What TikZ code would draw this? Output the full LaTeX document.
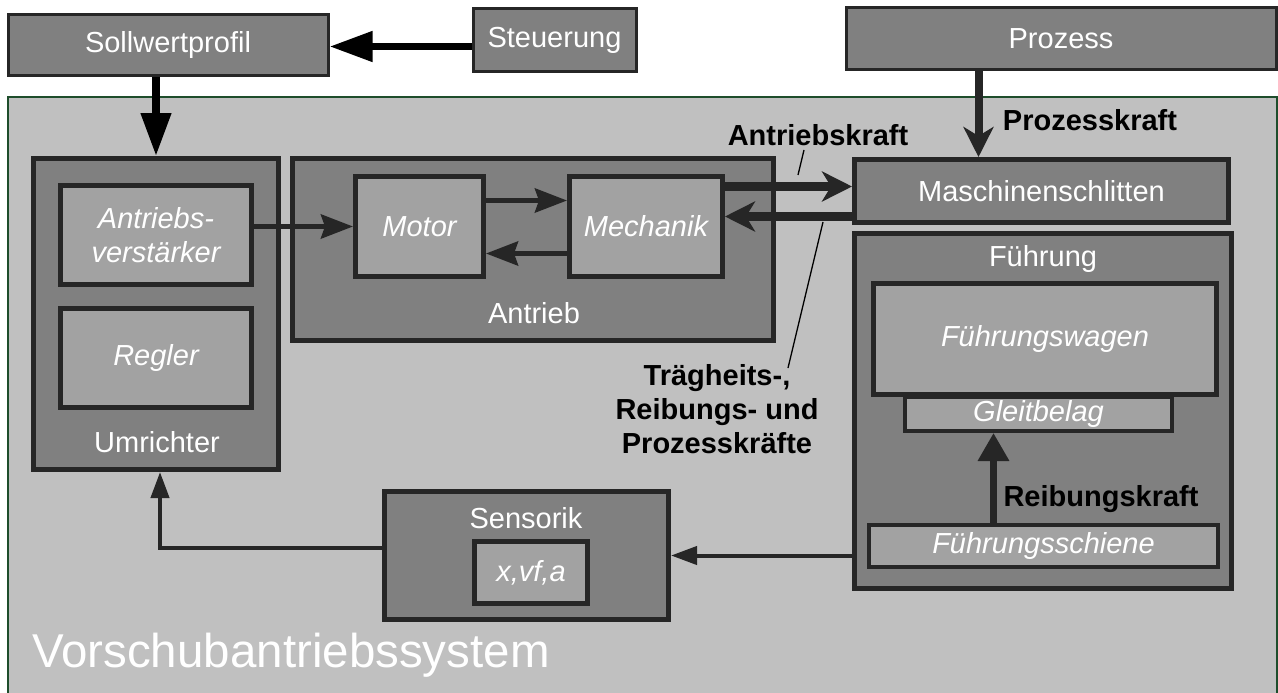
\documentclass[tikz,border=0pt]{standalone}
\usepackage{fontspec}
\setmainfont{Liberation Sans}
\usetikzlibrary{arrows.meta,positioning}

\definecolor{sysgray}{HTML}{C0C0C0}
\definecolor{outergray}{HTML}{808080}
\definecolor{innergray}{HTML}{A2A2A2}
\definecolor{edge}{HTML}{262626}
\definecolor{sysedge}{HTML}{1E4D2B}

\newcommand{\lbl}{\fontsize{29pt}{34pt}\selectfont}

\begin{document}
\begin{tikzpicture}[x=1pt, y=-1pt,
  topbox/.style={rectangle, draw=edge, line width=3pt, fill=outergray, text=white, font=\lbl, inner sep=0pt},
  outer/.style={rectangle, draw=edge, line width=5pt, fill=outergray, inner sep=0pt},
  inner/.style={rectangle, draw=edge, line width=5pt, fill=innergray, text=white, font=\lbl\itshape, align=center, inner sep=0pt},
  title/.style={text=white, font=\lbl, inner sep=0pt},
  kraft/.style={font=\lbl\bfseries, align=center, inner sep=0pt},
  setarrow/.style={draw=black, line width=7.5pt, -{Triangle[length=43pt,width=29pt]}},
  forcearrow/.style={draw=edge, line width=9pt, -{Stealth[length=30pt,width=30pt,inset=9pt]}},
  midarrow/.style={draw=edge, line width=5pt, -{Stealth[length=32pt,width=24pt,inset=4pt]}},
  thinarrow/.style={draw=edge, line width=4pt, -{Triangle[length=26pt,width=18pt]}},
  lead/.style={draw=black, line width=1.3pt},
]

\useasboundingbox (0,0) rectangle (1278,693);
\fill[white] (0,0) rectangle (1278,693);

% === System frame ===
\draw[sysedge, line width=2pt, fill=sysgray] (8,97) rectangle (1277,720);
\node[text=white, font=\fontsize{47.5pt}{52pt}\selectfont, anchor=west, inner sep=0pt] (sys) at (32,655) {Vorschubantriebssystem};

% === Top boxes ===
\node[topbox, minimum width=320pt, minimum height=61pt] (soll) at (168,45) {Sollwertprofil};
\node[topbox, minimum width=163pt, minimum height=63pt] (steu) at (554.5,40.5) {Steuerung};
\node[topbox, minimum width=430pt, minimum height=62pt] (proz) at (1061,39) {Prozess};

% === Umrichter ===
\node[outer, minimum width=245pt, minimum height=311pt] (umr) at (156,314) {};
\node[title] (umrtext) at (157,442) {Umrichter};
\node[inner, minimum width=191pt, minimum height=99pt] (verst) at (156,235) {Antriebs-\\verstärker};
\node[inner, minimum width=191pt, minimum height=99pt] (regler) at (156,358) {Regler};

% === Antrieb ===
\node[outer, minimum width=481pt, minimum height=182pt] (antr) at (533,249.5) {};
\node[title] (antrtext) at (534,313) {Antrieb};
\node[inner, minimum width=128pt, minimum height=100pt] (motor) at (419.5,226.5) {Motor};
\node[inner, minimum width=153pt, minimum height=100pt] (mech) at (646,226.5) {Mechanik};

% === Schlitten und Fuehrung ===
\node[outer, text=white, font=\lbl, minimum width=374pt, minimum height=63pt] (schl) at (1041.5,191) {Maschinenschlitten};
\node[outer, minimum width=377pt, minimum height=355pt] (fuehr) at (1043,411) {};
\node[title] (fuehrtext) at (1043,259) {Führung};
\node[inner, minimum width=343pt, minimum height=111pt] (wagen) at (1045,339) {Führungswagen};
\node[inner, line width=4pt, minimum width=267pt, minimum height=34pt] (belag) at (1038.5,414) {Gleitbelag};
\node[inner, line width=4pt, minimum width=349pt, minimum height=42pt] (schiene) at (1043.5,546) {Führungsschiene};

% === Sensorik ===
\node[outer, minimum width=284pt, minimum height=128pt] (sens) at (526.5,555.5) {};
\node[title] (senstext) at (526,518) {Sensorik};
\node[inner, minimum width=113pt, minimum height=62pt] (xva) at (531,572.5) {x,vf,a};

% === Kraefte ===
\node[kraft] (antrkraft) at (818,135) {Antriebskraft};
\node[kraft] (prozkraft) at (1090,120) {Prozesskraft};
\node[kraft] (reibkraft) at (1101,499) {Reibungskraft};
\node[kraft] (traeg) at (717,409) {Trägheits-,\\Reibungs- und\\Prozesskräfte};

% === Connectors ===
\draw[setarrow] ([yshift=-6pt]steu.west) -- ([yshift=-6pt]steu.west -| soll.east);
\draw[setarrow] (umr.north |- soll.south) -- (umr.north);
\draw[forcearrow, line width=8pt] ([xshift=-63pt]schl.north |- proz.south) -- ([xshift=-63pt]schl.north);
\draw[midarrow] (verst.east |- motor.west) -- (motor.west);
\draw[midarrow] ([yshift=26pt]motor.east) -- ([yshift=26pt]mech.west);
\draw[midarrow] ([yshift=-27pt]mech.west) -- ([yshift=-27pt]motor.east);
\draw[forcearrow] ([yshift=40pt]mech.east) -- ([yshift=40pt]mech.east -| schl.west);
\draw[forcearrow] ([yshift=10pt]mech.east -| schl.west) -- ([yshift=10pt]mech.east);
\draw[thinarrow, line width=6.5pt, -{Triangle[length=28pt,width=30pt]}] ([xshift=-45pt]belag.south |- schiene.north) -- ([xshift=-45pt]belag.south);
\draw[thinarrow] (sens.east -| fuehr.west) -- (sens.east);
\draw[thinarrow] ([yshift=8pt]sens.west) -| ([xshift=4pt]umr.south);

% === Leader lines ===
\coordinate (aktop) at (804,150);
\coordinate (akpt) at (798,175);
\coordinate (tkpt) at (823,222);
\coordinate (tkend) at (788,368);
\draw[lead] (aktop) -- (akpt);
\draw[lead] (tkpt) -- (tkend);

\end{tikzpicture}
\end{document}
